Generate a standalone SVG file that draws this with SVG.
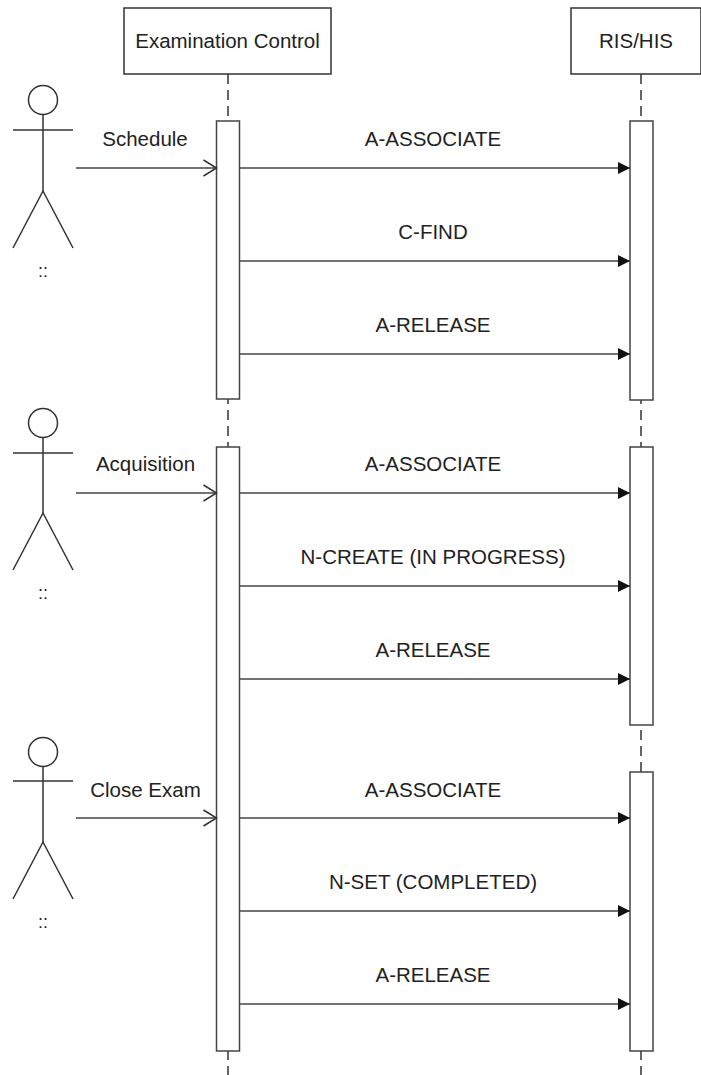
<svg xmlns="http://www.w3.org/2000/svg" width="701" height="1075" viewBox="0 0 701 1075">
<style>
.box{fill:#fff;stroke:#333;stroke-width:1.5}
.act{fill:#fff;stroke:#444;stroke-width:1.5}
.life{stroke:#333;stroke-width:1.5;stroke-dasharray:10 6;fill:none}
.msg{stroke:#444;stroke-width:1.5;fill:none}
.fig{stroke:#333;stroke-width:1.5;fill:none}
text{font-family:"Liberation Sans",Arial,sans-serif;font-size:20.5px;fill:#222;text-anchor:middle}
.dots{font-size:18px}
</style>
<defs>
<marker id="filled" markerWidth="12" markerHeight="12" refX="12" refY="6" orient="auto" markerUnits="userSpaceOnUse">
<path d="M0,0 L12,6 L0,12 Z" fill="#111"/>
</marker>
<marker id="open" markerWidth="16" markerHeight="18" refX="14" refY="9" orient="auto" markerUnits="userSpaceOnUse">
<path d="M1,1 L14,9 L1,17" fill="none" stroke="#333" stroke-width="1.5"/>
</marker>
</defs>

<g id="lifelines">
<line class="life" x1="228" y1="74" x2="228" y2="1075"/>
<line class="life" x1="641" y1="74" x2="641" y2="1075"/>
</g>

<g id="exam-control">
<rect class="box" x="124" y="8" width="207" height="66"/>
<text x="227.5" y="48">Examination Control</text>
<rect class="act" x="216.5" y="121" width="23" height="278"/>
<rect class="act" x="216.5" y="447" width="23" height="604"/>
</g>

<g id="ris-his">
<rect class="box" x="571" y="8" width="130" height="66"/>
<text x="636" y="48">RIS/HIS</text>
<rect class="act" x="630" y="121" width="23" height="279"/>
<rect class="act" x="630" y="447" width="23" height="278"/>
<rect class="act" x="630" y="772" width="23" height="279"/>
</g>

<g id="actor1">
<circle class="fig" cx="43" cy="100" r="14.5"/>
<line class="fig" x1="13" y1="130" x2="73" y2="130"/>
<line class="fig" x1="43" y1="114.5" x2="43" y2="191"/>
<path class="fig" d="M13,248 L43,191 L73,248"/>
<text class="dots" x="43" y="277">::</text>
</g>

<g id="actor2">
<circle class="fig" cx="43" cy="423" r="14.5"/>
<line class="fig" x1="13" y1="453" x2="73" y2="453"/>
<line class="fig" x1="43" y1="437.5" x2="43" y2="513"/>
<path class="fig" d="M13,570 L43,513 L73,570"/>
<text class="dots" x="43" y="599">::</text>
</g>

<g id="actor3">
<circle class="fig" cx="43" cy="752" r="14.5"/>
<line class="fig" x1="13" y1="781" x2="73" y2="781"/>
<line class="fig" x1="43" y1="766.5" x2="43" y2="842"/>
<path class="fig" d="M13,899 L43,842 L73,899"/>
<text class="dots" x="43" y="928">::</text>
</g>

<g id="connectors">
<line class="msg" x1="76" y1="168" x2="216.5" y2="168" marker-end="url(#open)"/>
<line class="msg" x1="76" y1="493" x2="216.5" y2="493" marker-end="url(#open)"/>
<line class="msg" x1="76" y1="818" x2="216.5" y2="818" marker-end="url(#open)"/>

<line class="msg" x1="239.5" y1="168" x2="630" y2="168" marker-end="url(#filled)"/>
<line class="msg" x1="239.5" y1="261" x2="630" y2="261" marker-end="url(#filled)"/>
<line class="msg" x1="239.5" y1="354" x2="630" y2="354" marker-end="url(#filled)"/>
<line class="msg" x1="239.5" y1="493" x2="630" y2="493" marker-end="url(#filled)"/>
<line class="msg" x1="239.5" y1="586" x2="630" y2="586" marker-end="url(#filled)"/>
<line class="msg" x1="239.5" y1="679" x2="630" y2="679" marker-end="url(#filled)"/>
<line class="msg" x1="239.5" y1="818" x2="630" y2="818" marker-end="url(#filled)"/>
<line class="msg" x1="239.5" y1="911" x2="630" y2="911" marker-end="url(#filled)"/>
<line class="msg" x1="239.5" y1="1004" x2="630" y2="1004" marker-end="url(#filled)"/>
</g>

<g id="labels">
<text x="145" y="146">Schedule</text>
<text x="145.5" y="471">Acquisition</text>
<text x="145.5" y="797">Close Exam</text>
<text x="433" y="146">A-ASSOCIATE</text>
<text x="433" y="239">C-FIND</text>
<text x="433" y="332">A-RELEASE</text>
<text x="433" y="471">A-ASSOCIATE</text>
<text x="433" y="564">N-CREATE (IN PROGRESS)</text>
<text x="433" y="657">A-RELEASE</text>
<text x="433" y="797">A-ASSOCIATE</text>
<text x="433" y="889">N-SET (COMPLETED)</text>
<text x="433" y="982">A-RELEASE</text>
</g>
</svg>
